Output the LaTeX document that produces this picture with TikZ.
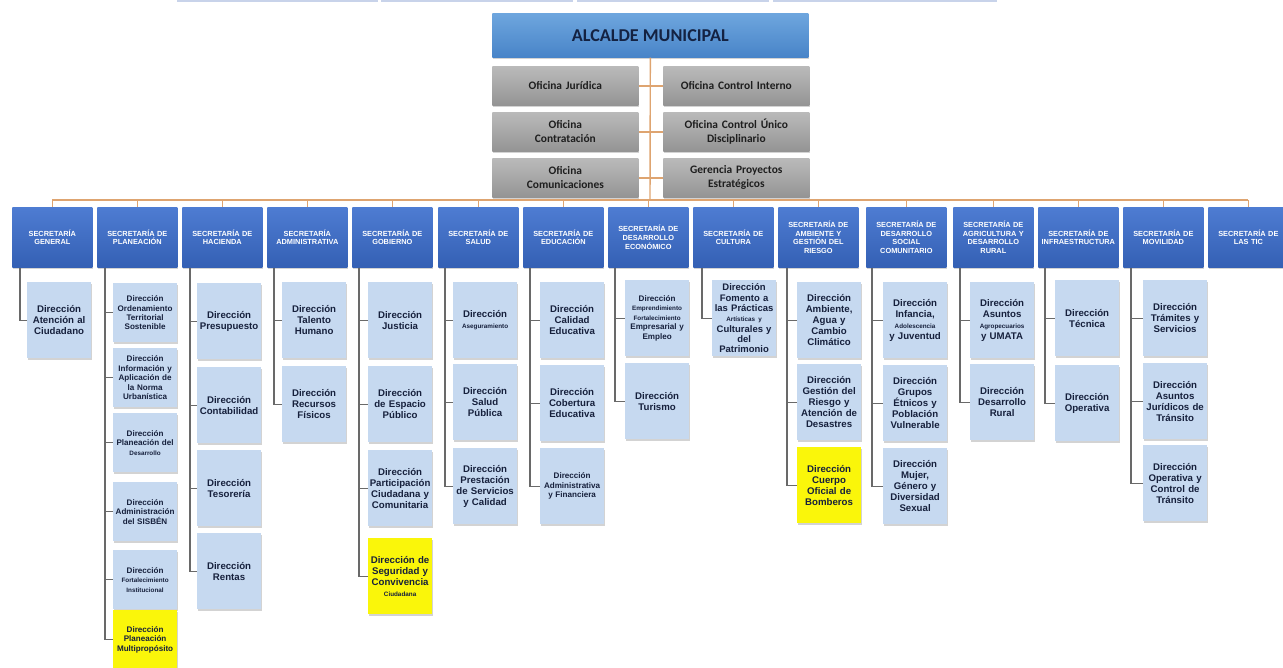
\documentclass[tikz,border=0pt]{standalone}
\usepackage{fontspec}
\setmainfont{Carlito}
\newfontfamily\arialf{Liberation Sans}
\usetikzlibrary{shadows}
\definecolor{alcarriba}{RGB}{110,166,222}
\definecolor{alcabajo}{RGB}{72,132,200}
\definecolor{alctexto}{RGB}{20,34,66}
\definecolor{grisarriba}{RGB}{186,186,186}
\definecolor{grisabajo}{RGB}{148,148,148}
\definecolor{gristexto}{RGB}{30,30,30}
\definecolor{secarriba}{RGB}{78,124,210}
\definecolor{secabajo}{RGB}{52,96,180}
\definecolor{dirazul}{RGB}{198,217,240}
\definecolor{dirtexto}{RGB}{22,32,60}
\definecolor{amarillo}{RGB}{250,246,10}
\definecolor{naranja}{RGB}{222,164,112}
\definecolor{lineagris}{RGB}{105,105,105}
\definecolor{franja}{RGB}{200,211,234}
\newcommand{\chica}[1]{{\fontsize{3.6}{4.6}\selectfont #1}}
\begin{document}
\begin{tikzpicture}[x=0.02cm, y=-0.02cm,
  sombra/.style={drop shadow={shadow xshift=0.5pt, shadow yshift=-0.8pt, opacity=0.35}},
  alcalde/.style={anchor=north west, inner sep=0pt, minimum width=6.32cm, minimum height=0.88cm, top color=alcarriba, bottom color=alcabajo, sombra, text=alctexto, font=\fontsize{10.3}{12}\selectfont\bfseries},
  oficina/.style={anchor=north west, inner sep=0pt, minimum width=2.92cm, minimum height=0.78cm, text width=2.8cm, align=center, top color=grisarriba, bottom color=grisabajo, sombra, text=gristexto, font=\fontsize{6.5}{8}\selectfont\bfseries},
  secretaria/.style={anchor=north west, inner sep=0pt, minimum width=1.6cm, minimum height=1.2cm, text width=1.58cm, align=center, top color=secarriba, bottom color=secabajo, sombra, text=white, font=\arialf\fontsize{4.2}{4.9}\selectfont\bfseries},
  direccion/.style={anchor=north west, inner sep=0pt, minimum width=1.27cm, minimum height=1.52cm, text width=1.26cm, align=center, fill=dirazul, sombra, text=dirtexto, font=\arialf\fontsize{5.5}{6.3}\selectfont\bfseries},
  planea/.style={direccion, minimum height=1.18cm},
  menuda/.style={font=\arialf\fontsize{4.6}{5.4}\selectfont\bfseries},
  apretada/.style={font=\arialf\fontsize{5.4}{5.9}\selectfont\bfseries},
  amarilla/.style={fill=amarillo},
  troncal/.style={draw=naranja, line width=0.8pt},
  rama/.style={draw=lineagris, line width=0.6pt}]
  \useasboundingbox (0,0) rectangle (1283,668);

  \fill[franja] (177,0) rectangle (378,2);
  \fill[franja] (381,0) rectangle (573,2);
  \fill[franja] (577,0) rectangle (769,2);
  \fill[franja] (773,0) rectangle (997,2);

  \node[alcalde] (alc) at (492,13) {ALCALDE MUNICIPAL};

  \node[oficina] (ojur) at (492,66) {Oficina Jurídica};
  \node[oficina] (ocon) at (492,112) {Oficina\\Contratación};
  \node[oficina] (ocom) at (492,158) {Oficina\\Comunicaciones};
  \node[oficina] (ocin) at (663,66) {Oficina Control Interno};
  \node[oficina] (ocud) at (663,112) {Oficina Control Único\\Disciplinario};
  \node[oficina] (ogpe) at (663,158) {Gerencia Proyectos\\Estratégicos};

  \node[secretaria] (sgen) at (12,207) {SECRETARÍA\\GENERAL};
  \node[secretaria] (spla) at (97,207) {SECRETARÍA DE\\PLANEACIÓN};
  \node[secretaria] (shac) at (182,207) {SECRETARÍA DE\\HACIENDA};
  \node[secretaria] (sadm) at (267,207) {SECRETARÍA\\ADMINISTRATIVA};
  \node[secretaria] (sgob) at (352,207) {SECRETARÍA DE\\GOBIERNO};
  \node[secretaria] (ssal) at (438,207) {SECRETARÍA DE\\SALUD};
  \node[secretaria] (sedu) at (523,207) {SECRETARÍA DE\\EDUCACIÓN};
  \node[secretaria] (seco) at (608,207) {SECRETARÍA DE\\DESARROLLO\\ECONÓMICO};
  \node[secretaria] (scul) at (693,207) {SECRETARÍA DE\\CULTURA};
  \node[secretaria] (samb) at (778,207) {SECRETARÍA DE\\AMBIENTE Y\\GESTIÓN DEL\\RIESGO};
  \node[secretaria] (ssoc) at (866,207) {SECRETARÍA DE\\DESARROLLO\\SOCIAL\\COMUNITARIO};
  \node[secretaria] (sagr) at (953,207) {SECRETARÍA DE\\AGRICULTURA Y\\DESARROLLO\\RURAL};
  \node[secretaria] (sinf) at (1038,207) {SECRETARÍA DE\\INFRAESTRUCTURA};
  \node[secretaria] (smov) at (1123,207) {SECRETARÍA DE\\MOVILIDAD};
  \node[secretaria] (stic) at (1208,207) {SECRETARÍA DE\\LAS TIC};

  \node[direccion] (dgen) at (27,282) {Dirección\\Atención al\\Ciudadano};

  \node[planea, menuda] (dpla1) at (113,283) {Dirección\\Ordenamiento\\Territorial\\Sostenible};
  \node[planea, menuda] (dpla2) at (113,348) {Dirección\\Información y\\Aplicación de\\la Norma\\Urbanística};
  \node[planea, menuda] (dpla3) at (113,413) {Dirección\\Planeación del\\\chica{Desarrollo}};
  \node[planea, menuda] (dpla4) at (113,482) {Dirección\\Administración\\del SISBÉN};
  \node[planea, menuda] (dpla5) at (113,550) {Dirección\\\chica{Fortalecimiento}\\\chica{Institucional}};
  \node[planea, menuda, amarilla] (dpla6) at (113,610) {Dirección\\Planeación\\Multipropósito};

  \node[direccion] (dhac1) at (197,283) {Dirección\\Presupuesto};
  \node[direccion] (dhac2) at (197,367) {Dirección\\Contabilidad};
  \node[direccion] (dhac3) at (197,450) {Dirección\\Tesorería};
  \node[direccion] (dhac4) at (197,533) {Dirección\\Rentas};

  \node[direccion] (dadm1) at (282,282) {Dirección\\Talento\\Humano};
  \node[direccion] (dadm2) at (282,366) {Dirección\\Recursos\\Físicos};

  \node[direccion] (dgob1) at (368,282) {Dirección\\Justicia};
  \node[direccion] (dgob2) at (368,366) {Dirección\\de Espacio\\Público};
  \node[direccion] (dgob3) at (368,450) {Dirección\\Participación\\Ciudadana y\\Comunitaria};
  \node[direccion, amarilla] (dgob4) at (368,538) {Dirección de\\Seguridad y\\Convivencia\\\chica{Ciudadana}};

  \node[direccion] (dsal1) at (453,282) {Dirección\\\chica{Aseguramiento}};
  \node[direccion] (dsal2) at (453,364) {Dirección\\Salud\\Pública};
  \node[direccion] (dsal3) at (453,448) {Dirección\\Prestación\\de Servicios\\y Calidad};

  \node[direccion] (dedu1) at (540,282) {Dirección\\Calidad\\Educativa};
  \node[direccion] (dedu2) at (540,365) {Dirección\\Cobertura\\Educativa};
  \node[direccion, menuda] (dedu3) at (540,448) {Dirección\\Administrativa\\y Financiera};

  \node[direccion, menuda] (deco1) at (625,280) {Dirección\\\chica{Emprendimiento}\\\chica{Fortalecimiento}\\Empresarial y\\Empleo};
  \node[direccion] (deco2) at (625,363) {Dirección\\Turismo};

  \node[direccion, apretada] (dcul) at (712,280) {Dirección\\Fomento a\\las Prácticas\\\chica{Artísticas y}\\Culturales y\\del\\Patrimonio};

  \node[direccion] (damb1) at (797,282) {Dirección\\Ambiente,\\Agua y\\Cambio\\Climático};
  \node[direccion] (damb2) at (797,364) {Dirección\\Gestión del\\Riesgo y\\Atención de\\Desastres};
  \node[direccion, amarilla] (damb3) at (797,447) {Dirección\\Cuerpo\\Oficial de\\Bomberos};

  \node[direccion] (dsoc1) at (883,282) {Dirección\\Infancia,\\\chica{Adolescencia}\\y Juventud};
  \node[direccion] (dsoc2) at (883,365) {Dirección\\Grupos\\Étnicos y\\Población\\Vulnerable};
  \node[direccion] (dsoc3) at (883,448) {Dirección\\Mujer,\\Género y\\Diversidad\\Sexual};

  \node[direccion] (dagr1) at (970,282) {Dirección\\Asuntos\\\chica{Agropecuarios}\\y UMATA};
  \node[direccion] (dagr2) at (970,364) {Dirección\\Desarrollo\\Rural};

  \node[direccion] (dinf1) at (1055,280) {Dirección\\Técnica};
  \node[direccion] (dinf2) at (1055,365) {Dirección\\Operativa};

  \node[direccion] (dmov1) at (1143,280) {Dirección\\Trámites y\\Servicios};
  \node[direccion] (dmov2) at (1143,363) {Dirección\\Asuntos\\Jurídicos de\\Tránsito};
  \node[direccion] (dmov3) at (1143,445) {Dirección\\Operativa y\\Control de\\Tránsito};

  \coordinate (cruce) at (650,200);
  \draw[troncal] (alc.south) -- (cruce);
  \draw[troncal] (ojur.east) -- (ocin.west);
  \draw[troncal] (ocon.east) -- (ocud.west);
  \draw[troncal] (ocom.east) -- (ogpe.west);
  \draw[troncal] (sgen.north |- cruce) -- (stic.north |- cruce);
  \draw[troncal] (sgen.north) -- (sgen.north |- cruce);
  \draw[troncal] (spla.north) -- (spla.north |- cruce);
  \draw[troncal] (shac.north) -- (shac.north |- cruce);
  \draw[troncal] (sadm.north) -- (sadm.north |- cruce);
  \draw[troncal] (sgob.north) -- (sgob.north |- cruce);
  \draw[troncal] (ssal.north) -- (ssal.north |- cruce);
  \draw[troncal] (sedu.north) -- (sedu.north |- cruce);
  \draw[troncal] (seco.north) -- (seco.north |- cruce);
  \draw[troncal] (scul.north) -- (scul.north |- cruce);
  \draw[troncal] (samb.north) -- (samb.north |- cruce);
  \draw[troncal] (ssoc.north) -- (ssoc.north |- cruce);
  \draw[troncal] (sagr.north) -- (sagr.north |- cruce);
  \draw[troncal] (sinf.north) -- (sinf.north |- cruce);
  \draw[troncal] (smov.north) -- (smov.north |- cruce);
  \draw[troncal] (stic.north) -- (stic.north |- cruce);

  \draw[rama] (sgen.south west) ++(8,0) |- (dgen.west);
  \draw[rama] (spla.south west) ++(8,0) |- (dpla1.west);
  \draw[rama] (spla.south west) ++(8,0) |- (dpla2.west);
  \draw[rama] (spla.south west) ++(8,0) |- (dpla3.west);
  \draw[rama] (spla.south west) ++(8,0) |- (dpla4.west);
  \draw[rama] (spla.south west) ++(8,0) |- (dpla5.west);
  \draw[rama] (spla.south west) ++(8,0) |- (dpla6.west);
  \draw[rama] (shac.south west) ++(8,0) |- (dhac1.west);
  \draw[rama] (shac.south west) ++(8,0) |- (dhac2.west);
  \draw[rama] (shac.south west) ++(8,0) |- (dhac3.west);
  \draw[rama] (shac.south west) ++(8,0) |- (dhac4.west);
  \draw[rama] (sadm.south west) ++(7,0) |- (dadm1.west);
  \draw[rama] (sadm.south west) ++(7,0) |- (dadm2.west);
  \draw[rama] (sgob.south west) ++(7,0) |- (dgob1.west);
  \draw[rama] (sgob.south west) ++(7,0) |- (dgob2.west);
  \draw[rama] (sgob.south west) ++(7,0) |- (dgob3.west);
  \draw[rama] (sgob.south west) ++(7,0) |- (dgob4.west);
  \draw[rama] (ssal.south west) ++(7,0) |- (dsal1.west);
  \draw[rama] (ssal.south west) ++(7,0) |- (dsal2.west);
  \draw[rama] (ssal.south west) ++(7,0) |- (dsal3.west);
  \draw[rama] (sedu.south west) ++(7,0) |- (dedu1.west);
  \draw[rama] (sedu.south west) ++(7,0) |- (dedu2.west);
  \draw[rama] (sedu.south west) ++(7,0) |- (dedu3.west);
  \draw[rama] (seco.south west) ++(7,0) |- (deco1.west);
  \draw[rama] (seco.south west) ++(7,0) |- (deco2.west);
  \draw[rama] (scul.south west) ++(9,0) |- (dcul.west);
  \draw[rama] (samb.south west) ++(9,0) |- (damb1.west);
  \draw[rama] (samb.south west) ++(9,0) |- (damb2.west);
  \draw[rama] (samb.south west) ++(9,0) |- (damb3.west);
  \draw[rama] (ssoc.south west) ++(6,0) |- (dsoc1.west);
  \draw[rama] (ssoc.south west) ++(6,0) |- (dsoc2.west);
  \draw[rama] (ssoc.south west) ++(6,0) |- (dsoc3.west);
  \draw[rama] (sagr.south west) ++(7,0) |- (dagr1.west);
  \draw[rama] (sagr.south west) ++(7,0) |- (dagr2.west);
  \draw[rama] (sinf.south west) ++(7,0) |- (dinf1.west);
  \draw[rama] (sinf.south west) ++(7,0) |- (dinf2.west);
  \draw[rama] (smov.south west) ++(8,0) |- (dmov1.west);
  \draw[rama] (smov.south west) ++(8,0) |- (dmov2.west);
  \draw[rama] (smov.south west) ++(8,0) |- (dmov3.west);
\end{tikzpicture}
\end{document}
